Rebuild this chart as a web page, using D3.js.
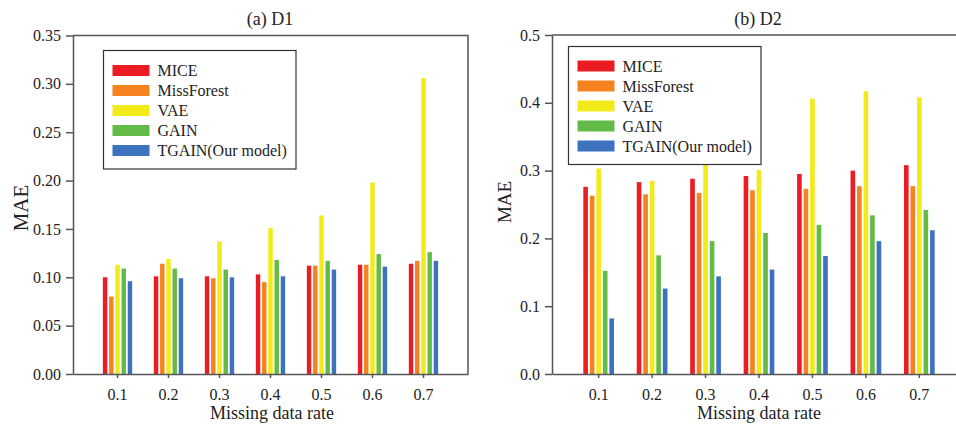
<!DOCTYPE html>
<html>
<head>
<meta charset="utf-8">
<script src="https://cdn.jsdelivr.net/npm/d3@7"></script>
<style>
  html, body { margin: 0; padding: 0; background: #fff; }
  svg { display: block; }
  svg text { font-family: "Liberation Serif", "Times New Roman", serif !important; fill: #222; }
</style>
</head>
<body>
<svg id="chart" width="956" height="425"></svg>
<script>
// ---------- Data ----------
const rates = ["0.1", "0.2", "0.3", "0.4", "0.5", "0.6", "0.7"];
const methods = ["MICE", "MissForest", "VAE", "GAIN", "TGAIN(Our model)"];
const colors = ["#ec1c24", "#f4821f", "#f2ea19", "#62bb46", "#3d72bf"];

// (a) D1
const d1Mice       = [0.100, 0.101, 0.101, 0.103, 0.112, 0.113, 0.114];
const d1MissForest = [0.080, 0.114, 0.099, 0.095, 0.112, 0.113, 0.117];
const d1Vae        = [0.113, 0.119, 0.137, 0.151, 0.164, 0.198, 0.306];
const d1Gain       = [0.109, 0.109, 0.108, 0.118, 0.117, 0.124, 0.126];
const d1Tgain      = [0.096, 0.099, 0.100, 0.101, 0.108, 0.111, 0.117];
const d1Ticks      = [0, 0.05, 0.10, 0.15, 0.20, 0.25, 0.30, 0.35];

// (b) D2
const d2Mice       = [0.276, 0.283, 0.288, 0.292, 0.295, 0.300, 0.308];
const d2MissForest = [0.263, 0.265, 0.267, 0.271, 0.273, 0.277, 0.277];
const d2Vae        = [0.303, 0.285, 0.320, 0.301, 0.406, 0.417, 0.408];
const d2Gain       = [0.152, 0.175, 0.196, 0.208, 0.220, 0.234, 0.242];
const d2Tgain      = [0.082, 0.126, 0.144, 0.154, 0.174, 0.196, 0.212];
const d2Ticks      = [0, 0.1, 0.2, 0.3, 0.4, 0.5];

// ---------- Drawing ----------
const svg = d3.select("#chart");
const axisColor = "#555";
const serif = "'Liberation Serif', 'Times New Roman', serif";

function panel(opts) {
  const { title, series, ticks, yMax, fmt, left, right, top, bottom,
          titleX, xLabelX, yLabelX, yLabelY, yLabelSize, legend } = opts;
  const g = svg.append("g");

  const x0 = d3.scaleBand().domain(rates).range([left, right])
    .paddingInner(0).paddingOuter(0.373);
  const x1 = d3.scaleBand().domain(methods)
    .range([0, x0.step() * 0.61]).paddingInner(0.29).paddingOuter(0.145);
  const y = d3.scaleLinear().domain([0, yMax]).range([bottom, top]);

  // bars
  methods.forEach((m, si) => {
    g.append("g").selectAll("rect")
      .data(series[si])
      .join("rect")
      .attr("x", (d, i) => x0(rates[i]) + x0.bandwidth() / 2 - x0.step() * 0.305 + x1(m))
      .attr("y", d => y(d))
      .attr("width", x1.bandwidth())
      .attr("height", d => y(0) - y(d))
      .attr("fill", colors[si]);
  });

  // frame (top & right)
  g.append("path")
    .attr("d", `M${left},${top}H${right}V${bottom}`)
    .attr("fill", "none").attr("stroke", axisColor).attr("stroke-width", 1.5);

  // y axis
  const ya = g.append("g").attr("transform", `translate(${left},0)`)
    .call(d3.axisLeft(y).tickValues(ticks).tickFormat(d3.format(fmt))
      .tickSize(7).tickSizeOuter(0).tickPadding(5));
  ya.attr("font-family", serif).attr("font-size", 16);
  ya.select(".domain").attr("stroke", axisColor).attr("stroke-width", 1.5);
  ya.selectAll(".tick line").attr("stroke", axisColor).attr("stroke-width", 1.5);
  ya.selectAll(".tick text").style("font-size", "16px").style("font-family", serif).attr("fill", "#222");

  // x axis
  const xa = g.append("g").attr("transform", `translate(0,${bottom})`)
    .call(d3.axisBottom(x0).tickSize(4).tickSizeOuter(0).tickPadding(11));
  xa.attr("font-family", serif).attr("font-size", 16);
  xa.select(".domain").attr("stroke", axisColor).attr("stroke-width", 1.5);
  xa.selectAll(".tick line").attr("stroke", axisColor).attr("stroke-width", 1.5);
  xa.selectAll(".tick text").style("font-size", "16px").style("font-family", serif).attr("fill", "#222");

  // title
  g.append("text").attr("x", titleX).attr("y", 25)
    .attr("text-anchor", "middle").style("font-size", "18px").text(title);

  // x label
  g.append("text").attr("x", xLabelX)
    .attr("y", 419).attr("text-anchor", "middle").style("font-size", "18px")
    .text("Missing data rate");

  // y label
  g.append("text")
    .attr("transform", `translate(${yLabelX},${yLabelY}) rotate(-90)`)
    .attr("text-anchor", "middle").style("font-size", yLabelSize + "px").text("MAE");

  // legend
  const lg = g.append("g").attr("transform", `translate(${legend.x},${legend.y})`);
  lg.append("rect").attr("width", legend.w).attr("height", legend.h)
    .attr("fill", "#fff").attr("stroke", "#333").attr("stroke-width", 1.2);
  methods.forEach((m, i) => {
    const row = lg.append("g").attr("transform", `translate(0,${legend.first + i * 20})`);
    row.append("rect").attr("x", 9).attr("y", -5.5).attr("width", 37).attr("height", 11)
      .attr("fill", colors[i]);
    row.append("text").attr("x", 54).attr("y", 5.5).style("font-size", "16px").text(m);
  });
}

panel({
  title: "(a) D1",
  series: [d1Mice, d1MissForest, d1Vae, d1Gain, d1Tgain],
  ticks: d1Ticks, yMax: 0.35, fmt: ".2f",
  left: 73, right: 468, top: 35.5, bottom: 374,
  titleX: 270, xLabelX: 272, yLabelX: 28, yLabelY: 208, yLabelSize: 21,
  legend: { x: 103.5, y: 50.5, w: 192.5, h: 118.5, first: 20 }
});

panel({
  title: "(b) D2",
  series: [d2Mice, d2MissForest, d2Vae, d2Gain, d2Tgain],
  ticks: d2Ticks, yMax: 0.5, fmt: ".1f",
  left: 552, right: 966, top: 35, bottom: 374,
  titleX: 758, xLabelX: 759, yLabelX: 511, yLabelY: 202, yLabelSize: 19,
  legend: { x: 568.5, y: 46.5, w: 192.5, h: 118, first: 19.5 }
});
</script>
</body>
</html>
